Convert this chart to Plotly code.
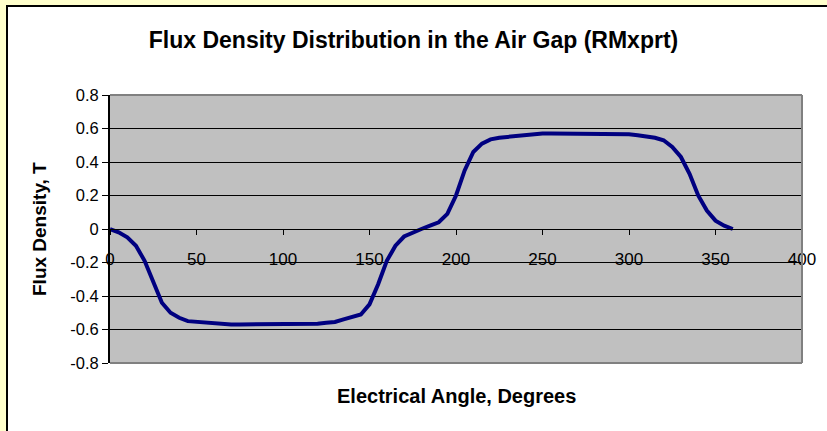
import plotly.graph_objects as go

# Electrical angle (degrees) and flux density (T)
angle = [0, 5, 10, 15, 20, 25, 30, 35, 40, 45, 50, 55, 60, 65, 70, 75, 80, 85, 90,
         95, 100, 105, 110, 115, 120, 125, 130, 135, 140, 145, 150, 155, 160, 165, 170,
         175, 180, 185, 190, 195, 200, 205, 210, 215, 220, 225, 230, 235, 240, 245,
         250, 255, 260, 265, 270, 275, 280, 285, 290, 295, 300, 305, 310, 315, 320,
         325, 330, 335, 340, 345, 350, 355, 360]
flux = [0.0, -0.02, -0.05, -0.10, -0.19, -0.31, -0.44, -0.50, -0.53, -0.55, -0.555,
        -0.56, -0.565, -0.57, -0.57, -0.57, -0.57, -0.57, -0.57, -0.57, -0.57, -0.57,
        -0.57, -0.57, -0.565, -0.56, -0.555, -0.54, -0.525, -0.51, -0.45, -0.33,
        -0.19, -0.10, -0.045, -0.02, 0.0, 0.02, 0.04, 0.09, 0.20, 0.35, 0.46, 0.51,
        0.535, 0.545, 0.55, 0.56, 0.565, 0.57, 0.57, 0.57, 0.57, 0.57, 0.57, 0.57,
        0.57, 0.57, 0.57, 0.57, 0.565, 0.56, 0.555, 0.545, 0.53, 0.49, 0.43, 0.33,
        0.20, 0.11, 0.05, 0.02, 0.0]

y_tickvals = [-0.8, -0.6, -0.4, -0.2, 0, 0.2, 0.4, 0.6, 0.8]
y_ticktext = ["-0.8", "-0.6", "-0.4", "-0.2", "0", "0.2", "0.4", "0.6", "0.8"]
x_tickvals = [0, 50, 100, 150, 200, 250, 300, 350, 400]
x_ticktext = ["0", "50", "100", "150", "200", "250", "300", "350", "400"]

title_text = "Flux Density Distribution in the Air Gap (RMxprt)"
x_title = "Electrical Angle, Degrees"
y_title = "Flux Density, T"

FONT = "Liberation Sans, Arial, sans-serif"
W, H = 827, 431
ML, MR, MT, MB = 110, 25, 95, 68
PW, PH = W - ML - MR, H - MT - MB


def px_x(p):
    return (p - ML) / PW


def px_y(p):
    return (H - MB - p) / PH


fig = go.Figure()
fig.add_trace(go.Scatter(x=angle, y=flux, mode="lines",
                         line=dict(color="#000080", width=4), showlegend=False,
                         hoverinfo="x+y"))

shapes = [
    # white chart area
    dict(type="rect", xref="paper", yref="paper", layer="below",
         x0=px_x(6), x1=px_x(840), y0=px_y(5), y1=px_y(445),
         fillcolor="white", line=dict(width=0)),
    dict(type="line", xref="paper", yref="paper", layer="below",
         x0=px_x(7), x1=px_x(7), y0=px_y(5), y1=px_y(445),
         line=dict(color="black", width=2)),
    dict(type="line", xref="paper", yref="paper", layer="below",
         x0=px_x(6), x1=px_x(840), y0=px_y(6), y1=px_y(6),
         line=dict(color="black", width=2)),
    # grey plot area
    dict(type="rect", xref="paper", yref="paper", layer="below",
         x0=0, x1=1, y0=0, y1=1, fillcolor="#C0C0C0", line=dict(width=0)),
    # plot area border (top, right, bottom)
    dict(type="line", xref="paper", yref="paper", x0=0, x1=1, y0=1, y1=1,
         line=dict(color="#808080", width=2)),
    dict(type="line", xref="paper", yref="paper", x0=1, x1=1, y0=0, y1=1,
         line=dict(color="#808080", width=2)),
    dict(type="line", xref="paper", yref="paper", x0=0, x1=1, y0=0, y1=0,
         line=dict(color="#808080", width=2)),
]

fig.update_layout(
    width=W, height=H,
    margin=dict(l=ML, r=MR, t=MT, b=MB),
    paper_bgcolor="#FFFFCC",
    plot_bgcolor="#C0C0C0",
    font=dict(family=FONT, size=17, color="black"),
    title=dict(text="<b>" + title_text + "</b>", x=0.5, xref="container",
               xanchor="center", y=1 - 40 / H, yanchor="middle",
               font=dict(family=FONT, size=23, color="black")),
    shapes=shapes,
    annotations=[
        dict(text="<b>" + x_title + "</b>", xref="paper", yref="paper",
             x=0.5, y=px_y(396), xanchor="center", yanchor="middle",
             showarrow=False, font=dict(family=FONT, size=20, color="black")),
        dict(text="<b>" + y_title + "</b>", xref="paper", yref="paper",
             x=px_x(39), y=0.5, xanchor="center", yanchor="middle", textangle=-90,
             showarrow=False, font=dict(family=FONT, size=19, color="black")),
    ],
    xaxis=dict(range=[0, 400], tickvals=x_tickvals, ticktext=x_ticktext,
               anchor="free", position=0.5,
               showgrid=False, zeroline=False, showline=True, linecolor="black",
               linewidth=1, ticks="outside", ticklen=5, tickcolor="black",
               ticklabelstandoff=10, tickfont=dict(size=17)),
    yaxis=dict(range=[-0.8, 0.8], tickvals=y_tickvals, ticktext=y_ticktext,
               showgrid=True,
               gridcolor="black", gridwidth=1, zeroline=False, showline=True,
               linecolor="black", linewidth=2, ticks="outside", ticklen=6,
               tickcolor="black", tickfont=dict(size=16.5)),
)

fig.write_html("out.html",
               config={"displayModeBar": False},
               post_script="document.body.style.margin='0';"
                           "document.body.style.padding='0';")
